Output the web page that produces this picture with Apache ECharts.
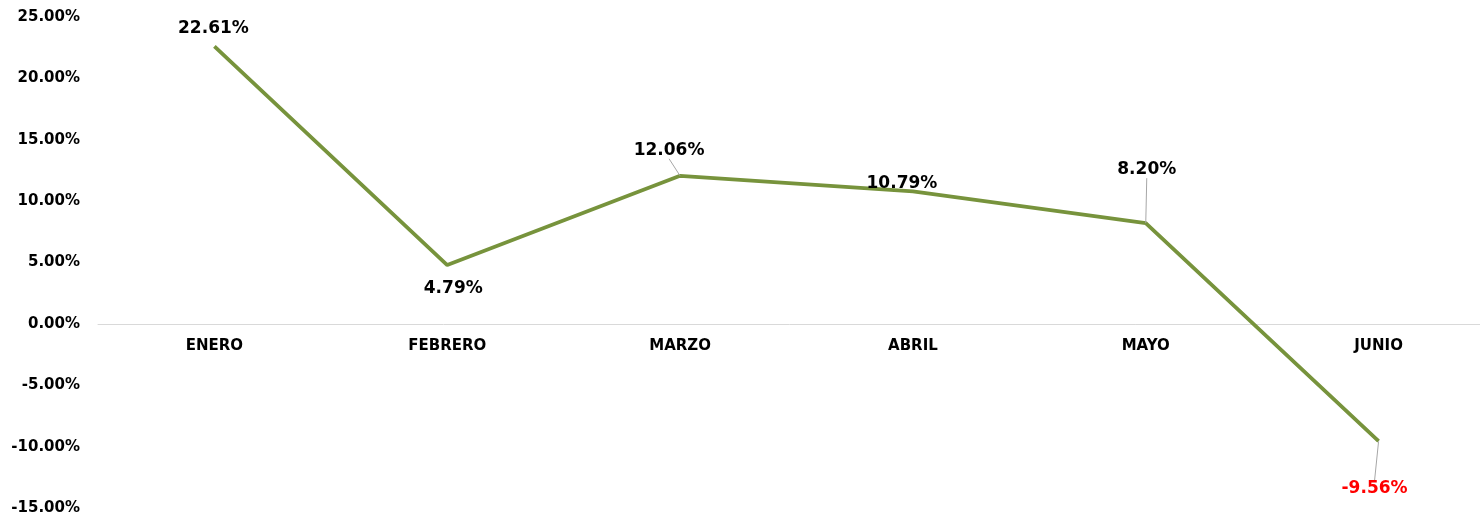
<!DOCTYPE html>
<html>
<head>
<meta charset="utf-8">
<script src="https://cdn.jsdelivr.net/npm/echarts@6/dist/echarts.min.js"></script>
<style>
  html, body { margin: 0; padding: 0; background: #fff; }
  #main { width: 1480px; height: 515px; }
</style>
</head>
<body>
<div id="main"></div>
<script>
  // datos
  const meses = ['ENERO', 'FEBRERO', 'MARZO', 'ABRIL', 'MAYO', 'JUNIO']
  const variacion = [22.61, 4.79, 12.06, 10.79, 8.20, -9.56]

  const fuente = 'DejaVu Sans'

  // ajustes de etiquetas (posicion y desplazamiento)
  const posEtiqueta = ['top', 'bottom', 'top', 'top', 'top', 'bottom']
  const desplaza = [[-1, 1], [6, 5], [-11, -7], [-11, 11], [1, -35], [-4, 29]]
  const conGuia = [false, false, true, false, true, true]

  let myEchart = echarts.init(document.getElementById('main'))

  myEchart.setOption({
    animation: false,
    grid: { left: 98, width: 1397, top: 17, bottom: 7, containLabel: false, outerBoundsMode: 'none' },
    xAxis: {
      type: 'category',
      data: meses,
      // el eje se sube hasta la linea del 0%
      offset: -184,
      axisTick: { show: false },
      axisLine: { onZero: false, lineStyle: { color: '#d9d9d9', width: 1 } },
      axisLabel: { color: '#000', fontFamily: fuente, fontWeight: 'bold', fontSize: 15, margin: 15 }
    },
    yAxis: {
      type: 'value',
      min: -15,
      max: 25,
      interval: 5,
      splitLine: { show: false },
      axisLine: { show: false },
      axisTick: { show: false },
      axisLabel: {
        color: '#000', fontFamily: fuente, fontWeight: 'bold', fontSize: 15, margin: 18,
        formatter: v => v.toFixed(2) + '%'
      }
    },
    series: [
      {
        type: 'line',
        symbol: 'circle',
        symbolSize: 0.1,
        lineStyle: { color: '#77933C', width: 3.8 },
        itemStyle: { color: '#77933C' },
        data: variacion.map((v, i) => ({
          value: v,
          label: {
            position: posEtiqueta[i],
            color: v < 0 ? '#ff0000' : '#000'
          },
          labelLine: { show: conGuia[i] }
        })),
        label: {
          show: true,
          distance: 10,
          fontFamily: fuente,
          fontWeight: 'bold',
          fontSize: 17,
          formatter: p => p.value.toFixed(2) + '%'
        },
        labelLine: { lineStyle: { color: '#a6a6a6', width: 1 } },
        labelLayout: p => ({ dx: desplaza[p.dataIndex][0], dy: desplaza[p.dataIndex][1] })
      }
    ]
  })
</script>
</body>
</html>
